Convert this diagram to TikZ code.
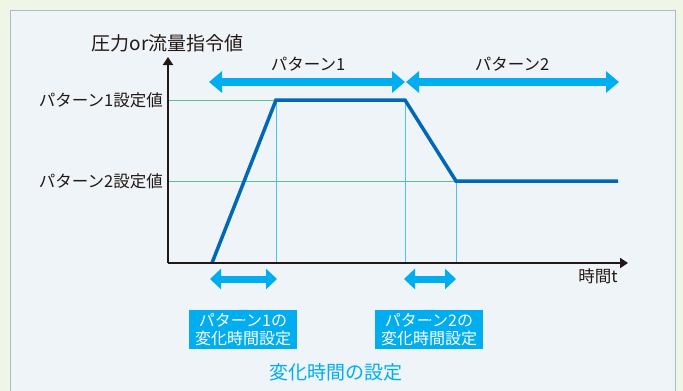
\documentclass[tikz,border=0pt]{standalone}
\usepackage{fontspec}
\setmainfont{Noto Sans CJK JP}
\usetikzlibrary{arrows.meta}
\definecolor{outerbg}{HTML}{EFF6E7}
\definecolor{panelbg}{HTML}{EEF4F7}
\definecolor{panelborder}{HTML}{A9BDC4}
\definecolor{cyanA}{HTML}{00AEEF}
\definecolor{curveblue}{HTML}{0068B7}
\definecolor{levelgreen}{HTML}{5DBF8C}
\definecolor{guideblue}{HTML}{4CC3EF}
\definecolor{txt}{HTML}{231815}
\tikzset{
  lbl/.style={inner sep=0pt, text=txt, font=\fontsize{16.5}{19}\selectfont},
  fatarrow/.style={draw=cyanA, line width=8pt,
     {Triangle[width=21pt,length=13pt]}-{Triangle[width=21pt,length=13pt]}},
  smallarrow/.style={draw=cyanA, line width=7pt,
     {Triangle[width=20pt,length=11pt]}-{Triangle[width=20pt,length=11pt]}},
  cbox/.style={fill=cyanA, text=white, align=center, inner sep=0pt,
     minimum width=108pt, minimum height=39pt,
     font=\fontsize{16}{18}\selectfont},
  axisline/.style={draw=txt, line width=1.8pt},
  level/.style={draw=levelgreen, line width=1pt},
  guide/.style={draw=guideblue, line width=0.9pt},
  curve/.style={draw=curveblue, line width=3.5pt, line join=miter},
}
\begin{document}
\begin{tikzpicture}[x=1pt,y=-1pt]
\useasboundingbox (0,0) rectangle (683,391);
\fill[outerbg] (0,0) rectangle (683,391);
\fill[panelbg] (10.5,10.5) rectangle (675.5,395);
\draw[panelborder, line width=1.5pt] (10.5,395) -- (10.5,10.5) -- (675.5,10.5) -- (675.5,395);

% coordinates
\coordinate (O) at (168,263);
\coordinate (Ytip) at (168,57);
\coordinate (Xtip) at (628,263);
\coordinate (L1) at (168,100);
\coordinate (L2) at (168,181);
\coordinate (P0) at (212,263);
\coordinate (P1) at (276,100);
\coordinate (P2) at (405,100);
\coordinate (P3) at (456,181);
\coordinate (P4) at (618,181);
\coordinate (B1) at (276,263);
\coordinate (B2) at (405,263);
\coordinate (B3) at (456,263);

% level lines and guides
\draw[level] (L1) -- (P1);
\draw[level] (L2) -- (P3);
\draw[guide] (P1) -- (B1);
\draw[guide] (P2) -- (B2);
\draw[guide] (P3) -- (B3);

% curve
\draw[curve] (P0) -- (P1) -- (P2) -- (P3) -- (P4);

% axes
\draw[axisline, -{Triangle[width=10pt,length=8pt]}] (O) -- (Ytip);
\draw[axisline, -{Triangle[width=10pt,length=8pt]}] (O) -- (Xtip);

% labels
\node[lbl, font=\fontsize{19}{21}\selectfont] (ytitle) at (167.5,43) {圧力or流量指令値};
\node[lbl, anchor=east] (lab1) at (163,100) {パターン1設定値};
\node[lbl, anchor=east] (lab2) at (163,181) {パターン2設定値};
\node[lbl] (xtitle) at (598,276) {時間t};
\node[lbl] (pat1) at (308,64) {パターン1};
\node[lbl] (pat2) at (512,64) {パターン2};

% top arrows
\coordinate (T1a) at (209,82);
\coordinate (T1b) at (405,82);
\coordinate (T2a) at (406,82);
\coordinate (T2b) at (619,82);
\draw[fatarrow] (T1a) -- (T1b);
\draw[fatarrow] (T2a) -- (T2b);

% bottom arrows
\coordinate (S1a) at (210,279);
\coordinate (S1b) at (277,279);
\coordinate (S2a) at (404,279);
\coordinate (S2b) at (456,279);
\draw[smallarrow] (S1a) -- (S1b);
\draw[smallarrow] (S2a) -- (S2b);

% boxes with pointers
\node[cbox] (box1) at (243,329.5) {パターン1の\\変化時間設定};
\node[cbox] (box2) at (429,329.5) {パターン2の\\変化時間設定};
\fill[cyanA] ([xshift=-4.5pt]box1.north) -- ([yshift=-11pt]box1.north) -- ([xshift=4.5pt]box1.north) -- cycle;
\fill[cyanA] ([xshift=-4.5pt]box2.north) -- ([yshift=-11pt]box2.north) -- ([xshift=4.5pt]box2.north) -- cycle;

\node[lbl, text=cyanA, font=\fontsize{19}{21}\selectfont] (caption) at (336,372) {変化時間の設定};
\end{tikzpicture}
\end{document}
